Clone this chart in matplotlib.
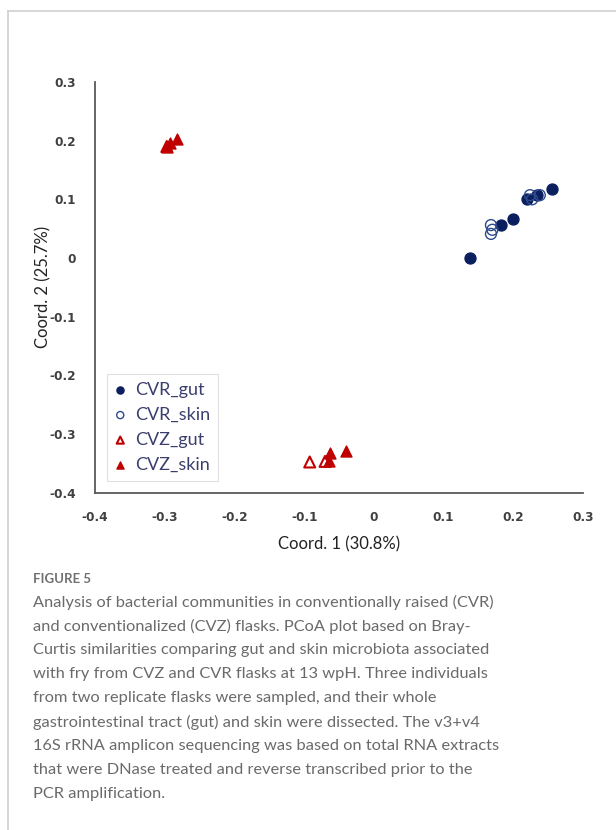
import matplotlib
matplotlib.use("Agg")
import matplotlib.pyplot as plt
from matplotlib.lines import Line2D

# PCoA coordinates
cvr_gut_x = [0.256, 0.234, 0.219, 0.200, 0.182, 0.138]
cvr_gut_y = [0.117, 0.107, 0.101, 0.067, 0.056, 0.000]
cvr_skin_x = [0.224, 0.227, 0.238, 0.168, 0.170, 0.168]
cvr_skin_y = [0.107, 0.100, 0.107, 0.056, 0.048, 0.041]
cvz_gut_x = [-0.092, -0.070, -0.297]
cvz_gut_y = [-0.348, -0.347, 0.190]
cvz_skin_x = [-0.063, -0.065, -0.040, -0.283, -0.292, -0.297]
cvz_skin_y = [-0.333, -0.347, -0.329, 0.202, 0.196, 0.190]

xticks = [-0.4, -0.3, -0.2, -0.1, 0, 0.1, 0.2, 0.3]
yticks = [-0.4, -0.3, -0.2, -0.1, 0, 0.1, 0.2, 0.3]

caption_title = "FIGURE 5"
caption_lines = [
    "Analysis of bacterial communities in conventionally raised (CVR)",
    "and conventionalized (CVZ) flasks. PCoA plot based on Bray-",
    "Curtis similarities comparing gut and skin microbiota associated",
    "with fry from CVZ and CVR flasks at 13 wpH. Three individuals",
    "from two replicate flasks were sampled, and their whole",
    "gastrointestinal tract (gut) and skin were dissected. The v3+v4",
    "16S rRNA amplicon sequencing was based on total RNA extracts",
    "that were DNase treated and reverse transcribed prior to the",
    "PCR amplification.",
]

navy = "#0b1f5e"
red = "#c00000"

W, H = 616, 830
fig = plt.figure(figsize=(W / 100, H / 100), dpi=100)
ax = fig.add_axes([95 / W, 1 - 492.5 / H, (583 - 95) / W, (492.5 - 82) / H])

ax.scatter(cvr_gut_x, cvr_gut_y, s=62, marker="o", color=navy, label="CVR_gut", zorder=3)
ax.scatter(cvr_skin_x, cvr_skin_y, s=62, marker="o", facecolor="none",
           edgecolor="#2e4a8c", linewidth=1.0, label="CVR_skin", zorder=3)
ax.scatter(cvz_gut_x, cvz_gut_y, s=62, marker="^", facecolor="none",
           edgecolor=red, linewidth=1.5, label="CVZ_gut", zorder=3)
ax.scatter(cvz_skin_x, cvz_skin_y, s=62, marker="^", color=red, label="CVZ_skin", zorder=4)

ax.set_xlim(-0.4, 0.3)
ax.set_ylim(-0.4, 0.3)
ax.set_xticks(xticks)
ax.set_yticks(yticks)
ax.set_xticklabels([("%g" % t) for t in xticks])
ax.set_yticklabels([("%g" % t) for t in yticks])
ax.tick_params(length=0, labelsize=8.7, colors="#404040")
ax.tick_params(axis="y", pad=14)
ax.tick_params(axis="x", pad=13)
for lab in ax.get_xticklabels() + ax.get_yticklabels():
    lab.set_fontfamily("DejaVu Sans")
    lab.set_fontweight("bold")

for side in ["top", "right"]:
    ax.spines[side].set_visible(False)
for side in ["left", "bottom"]:
    ax.spines[side].set_color("#595959")
    ax.spines[side].set_linewidth(1.3)

ax.set_xlabel("Coord. 1 (30.8%)", fontsize=12, family="Lato", color="#222222", labelpad=9)
ax.set_ylabel("Coord. 2 (25.7%)", fontsize=12, family="Lato", color="#222222", labelpad=-1.5)

leg = ax.legend(loc="lower left", bbox_to_anchor=(0.024, 0.028), borderaxespad=0,
                prop={"family": "Lato", "size": 13}, markerscale=0.65,
                handlelength=0.6, handletextpad=0.5, labelspacing=0.5,
                fancybox=False, frameon=True, borderpad=0.45)
leg.get_frame().set_edgecolor("#d9d9d9")
leg.get_frame().set_linewidth(0.8)
for t in leg.get_texts():
    t.set_color("#3a3f6e")

# panel border
fig.add_artist(Line2D([8 / W, 1], [1 - 11 / H, 1 - 11 / H], color="#cfcfcf", lw=1.2))
fig.add_artist(Line2D([8 / W, 8 / W], [0, 1 - 11 / H], color="#cfcfcf", lw=1.2))

fig.text(33 / W, 1 - 579 / H, caption_title, fontsize=9.5, family="Lato",
         fontweight="bold", color="#707070", va="center")
for i, line in enumerate(caption_lines):
    fig.text(33 / W, 1 - (602 + 24 * i) / H, line, fontsize=11.8, family="Lato",
             color="#6a6a6a", va="center")

fig.savefig("out.png", dpi=100)
